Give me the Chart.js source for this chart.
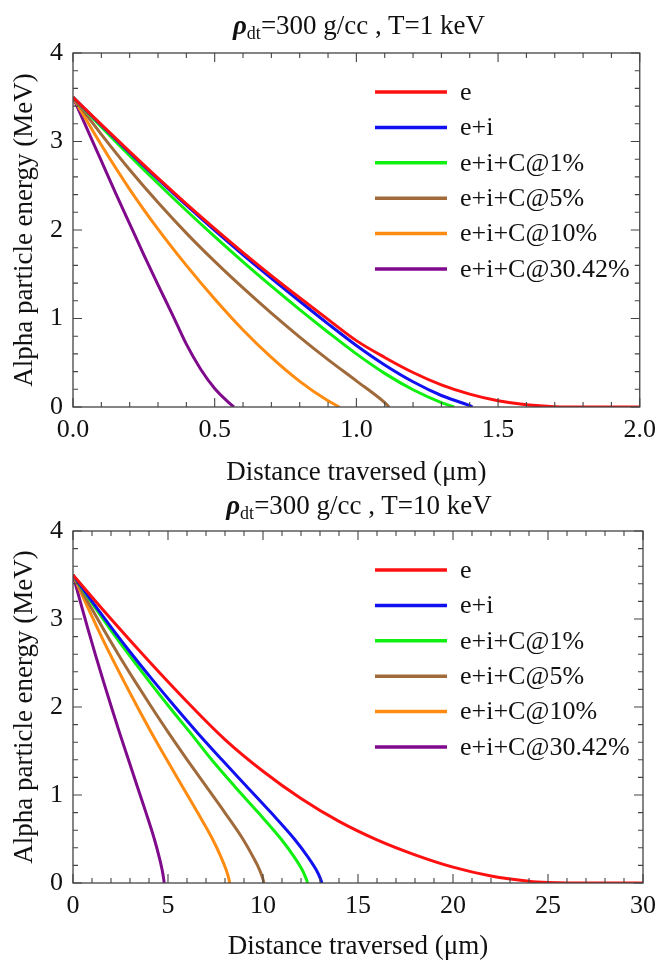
<!DOCTYPE html>
<html>
<head>
<meta charset="utf-8">
<script src="https://cdn.jsdelivr.net/npm/chart.js@4.4.0/dist/chart.umd.min.js"></script>
<style>
  html, body { margin: 0; padding: 0; background: #fff; }
  #page { position: relative; width: 664px; height: 960px; overflow: hidden; font-family: 'Liberation Serif', serif; }
  .panel { position: absolute; left: 0; width: 664px; }
  .title { position: absolute; left: 73px; width: 572px; text-align: center; font-size: 27px; color: #111; line-height: 1; white-space: nowrap; }
  .title .rho { font-style: italic; font-weight: bold; }
  .title sub { font-size: 18px; vertical-align: -5px; line-height: 0; }
</style>
</head>
<body>
<div id="page">
  <div class="panel" style="top:0;height:490px"><canvas id="chartLow" width="664" height="490"></canvas></div>
  <div class="panel" style="top:490px;height:470px"><canvas id="chartHigh" width="664" height="470"></canvas></div>
  <div class="title" style="top:12px"><span class="rho">ρ</span><sub>dt</sub>=300 g/cc , T=1 keV</div>
  <div class="title" style="top:492px"><span class="rho">ρ</span><sub>dt</sub>=300 g/cc , T=10 keV</div>
</div>

<script>
// Series shared by both panels
const seriesLabels = ['e', 'e+i', 'e+i+C@1%', 'e+i+C@5%', 'e+i+C@10%', 'e+i+C@30.42%'];
const seriesColors = ['#ff1010', '#1010f0', '#10f010', '#a06a3a', '#ff8c10', '#800a8c'];

// T = 1 keV : distance (um) / energy (MeV)
const low_e_x = [0, 0.1, 0.2, 0.3, 0.4, 0.5, 0.6, 0.7, 0.8, 0.9, 1.0, 1.1, 1.2, 1.3, 1.4, 1.5, 1.6, 1.7, 1.8, 2.0];
const low_e_y = [3.5, 3.19, 2.885, 2.585, 2.295, 2.015, 1.745, 1.485, 1.235, 0.99, 0.75, 0.56, 0.39, 0.25, 0.145, 0.07, 0.025, 0.004, 0, 0];
const low_ei_x = [0, 0.1, 0.2, 0.3, 0.4, 0.5, 0.6, 0.7, 0.8, 0.9, 1.0, 1.1, 1.2, 1.3, 1.4, 1.41];
const low_ei_y = [3.5, 3.185, 2.875, 2.575, 2.28, 1.995, 1.72, 1.455, 1.195, 0.94, 0.695, 0.475, 0.285, 0.13, 0.015, 0];
const low_c1_x = [0, 0.1, 0.2, 0.3, 0.4, 0.5, 0.6, 0.7, 0.8, 0.9, 1.0, 1.1, 1.2, 1.3, 1.345];
const low_c1_y = [3.5, 3.165, 2.84, 2.525, 2.22, 1.925, 1.64, 1.365, 1.10, 0.845, 0.60, 0.38, 0.195, 0.05, 0];
const low_c5_x = [0, 0.1, 0.2, 0.3, 0.4, 0.5, 0.6, 0.7, 0.8, 0.9, 1.0, 1.1, 1.116];
const low_c5_y = [3.5, 3.08, 2.68, 2.31, 1.965, 1.645, 1.345, 1.06, 0.79, 0.535, 0.295, 0.05, 0];
const low_c10_x = [0, 0.1, 0.2, 0.3, 0.4, 0.5, 0.6, 0.7, 0.8, 0.9, 0.94];
const low_c10_y = [3.5, 2.96, 2.46, 2.01, 1.60, 1.22, 0.87, 0.56, 0.29, 0.07, 0];
const low_c30_x = [0, 0.05, 0.1, 0.15, 0.2, 0.25, 0.3, 0.35, 0.4, 0.45, 0.5, 0.55, 0.568];
const low_c30_y = [3.5, 3.14, 2.78, 2.42, 2.07, 1.72, 1.38, 1.05, 0.71, 0.43, 0.21, 0.05, 0];

// T = 10 keV
const high_e_x = [0, 2, 4, 6, 8, 10, 12, 14, 16, 18, 20, 22, 24, 25, 26, 30];
const high_e_y = [3.5, 3.0, 2.52, 2.06, 1.63, 1.27, 0.96, 0.70, 0.49, 0.32, 0.18, 0.08, 0.02, 0.005, 0, 0];
const high_levels = [3.5, 3.2, 2.9, 2.6, 2.3, 2.0, 1.7, 1.4, 1.1, 0.8, 0.5, 0.3, 0.15, 0.05, 0];
const high_ei_x = [0, 1.0, 2.03, 3.1, 4.22, 5.38, 6.58, 7.84, 9.13, 10.42, 11.65, 12.35, 12.8, 13.02, 13.1];
const high_c1_x = [0, 0.94, 1.91, 2.92, 3.98, 5.07, 6.2, 7.3, 8.5, 9.75, 10.95, 11.63, 12.06, 12.27, 12.35];
const high_c5_x = [0, 0.77, 1.56, 2.38, 3.24, 4.13, 5.05, 6.01, 7.0, 7.99, 8.94, 9.47, 9.82, 9.99, 10.05];
const high_c10_x = [0, 0.63, 1.28, 1.95, 2.66, 3.39, 4.15, 4.94, 5.75, 6.56, 7.34, 7.78, 8.06, 8.2, 8.25];
const high_c30_x = [0, 0.38, 0.77, 1.17, 1.59, 2.02, 2.46, 2.92, 3.38, 3.84, 4.28, 4.53, 4.69, 4.77, 4.8];

const FONT = "'Liberation Serif', serif";
const INK = '#111';

// frame with inward major/minor ticks on all four sides
const mirrorTicks = {
    id: 'mirrorTicks',
    afterDraw(chart, args, opts) {
        const { ctx, chartArea: a, scales } = chart;
        ctx.save();
        ctx.strokeStyle = '#444';
        ctx.lineWidth = 1.3;
        ctx.strokeRect(a.left, a.top, a.right - a.left, a.bottom - a.top);
        ctx.lineWidth = 1.1;
        const isMajor = (v, step) => Math.abs(v / step - Math.round(v / step)) < 1e-6;

        const xs = scales.x;
        let n = Math.round((xs.max - xs.min) / opts.xMinor);
        for (let k = 0; k <= n; k++) {
            const v = xs.min + k * opts.xMinor;
            const px = xs.getPixelForValue(v);
            const len = isMajor(v, opts.xMajor) ? 9 : 5;
            ctx.beginPath();
            ctx.moveTo(px, a.bottom); ctx.lineTo(px, a.bottom - len);
            ctx.moveTo(px, a.top); ctx.lineTo(px, a.top + len);
            ctx.stroke();
        }
        const ys = scales.y;
        n = Math.round((ys.max - ys.min) / opts.yMinor);
        for (let k = 0; k <= n; k++) {
            const v = ys.min + k * opts.yMinor;
            const py = ys.getPixelForValue(v);
            const len = isMajor(v, opts.yMajor) ? 9 : 5;
            ctx.beginPath();
            ctx.moveTo(a.left, py); ctx.lineTo(a.left + len, py);
            ctx.moveTo(a.right, py); ctx.lineTo(a.right - len, py);
            ctx.stroke();
        }
        ctx.restore();
    }
};

// legend drawn inside the plot area, upper right
const insideLegend = {
    id: 'insideLegend',
    afterDatasetsDraw(chart) {
        const { ctx, chartArea } = chart;
        ctx.save();
        ctx.font = '26px ' + FONT;
        ctx.textBaseline = 'middle';
        ctx.fillStyle = INK;
        chart.data.datasets.forEach((ds, i) => {
            const y = chartArea.top + 39 + i * 35.4;
            ctx.strokeStyle = ds.borderColor;
            ctx.lineWidth = 3.5;
            ctx.beginPath();
            ctx.moveTo(375, y);
            ctx.lineTo(447, y);
            ctx.stroke();
            ctx.fillText(ds.label, 460, y + 1);
        });
        ctx.restore();
    }
};

function toPoints(xs, ys) {
    return xs.map((x, j) => ({ x: x, y: ys[j] }));
}

function buildChart(canvasId, series, cfg) {
    const datasets = series.map((s, i) => ({
        label: seriesLabels[i],
        data: toPoints(s[0], s[1]),
        borderColor: seriesColors[i],
        backgroundColor: seriesColors[i],
        borderWidth: 3,
        pointRadius: 0,
        fill: false,
        cubicInterpolationMode: 'monotone'
    }));

    new Chart(document.getElementById(canvasId), {
        type: 'line',
        data: { datasets: datasets },
        plugins: [mirrorTicks, insideLegend],
        options: {
            responsive: false,
            animation: false,
            events: [],
            layout: { padding: { left: 0, top: cfg.top, right: 19, bottom: 0 } },
            plugins: {
                legend: { display: false },
                tooltip: { enabled: false },
                mirrorTicks: { xMinor: cfg.xMinor, xMajor: cfg.xStep, yMinor: 0.2, yMajor: 1 }
            },
            scales: {
                x: {
                    type: 'linear',
                    min: 0,
                    max: cfg.xMax,
                    grid: { display: false, drawTicks: false },
                    border: { display: false },
                    ticks: {
                        stepSize: cfg.xStep,
                        padding: 8,
                        maxRotation: 0,
                        autoSkip: false,
                        color: INK,
                        font: { family: FONT, size: 26 },
                        callback: v => v.toFixed(cfg.decimals)
                    },
                    title: {
                        display: true,
                        text: 'Distance traversed (μm)',
                        color: INK,
                        font: { family: FONT, size: 27, lineHeight: 1 },
                        padding: { top: 0, bottom: cfg.titlePad }
                    },
                    afterFit: s => { s.height = cfg.xHeight; }
                },
                y: {
                    min: 0,
                    max: 4,
                    grid: { display: false, drawTicks: false },
                    border: { display: false },
                    ticks: {
                        stepSize: 1,
                        padding: 10,
                        color: INK,
                        font: { family: FONT, size: 26 }
                    },
                    title: {
                        display: true,
                        text: 'Alpha particle energy (MeV)',
                        color: INK,
                        font: { family: FONT, size: 27, lineHeight: 1 },
                        padding: { top: 11, bottom: 0 }
                    },
                    afterFit: s => { s.width = 73; }
                }
            }
        }
    });
}

buildChart('chartLow', [
    [low_e_x, low_e_y],
    [low_ei_x, low_ei_y],
    [low_c1_x, low_c1_y],
    [low_c5_x, low_c5_y],
    [low_c10_x, low_c10_y],
    [low_c30_x, low_c30_y]
], { top: 53, xHeight: 83, xMax: 2, xStep: 0.5, xMinor: 0.1, decimals: 1, titlePad: 4 });

buildChart('chartHigh', [
    [high_e_x, high_e_y],
    [high_ei_x, high_levels],
    [high_c1_x, high_levels],
    [high_c5_x, high_levels],
    [high_c10_x, high_levels],
    [high_c30_x, high_levels]
], { top: 41, xHeight: 77, xMax: 30, xStep: 5, xMinor: 1, decimals: 0, titlePad: 0 });
</script>
</body>
</html>
